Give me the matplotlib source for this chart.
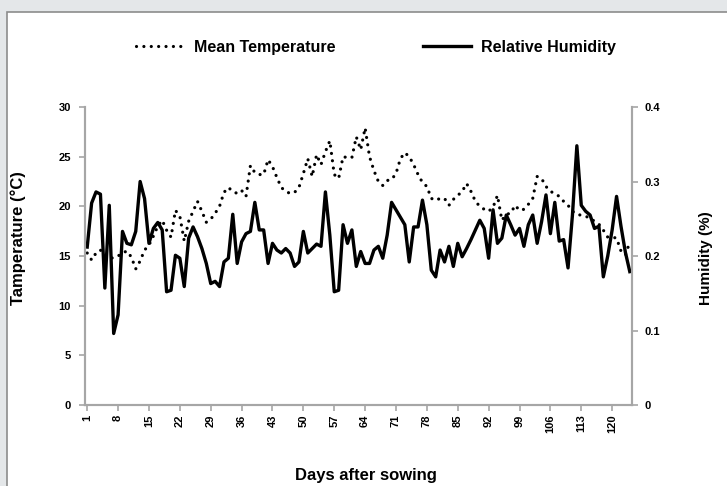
import matplotlib
matplotlib.use("Agg")
import matplotlib.pyplot as plt
from matplotlib.lines import Line2D
from matplotlib.patches import Rectangle

days = list(range(1, 125))

mean_temperature = [
    15.3, 14.6, 15.3, 15.6, 15.0, 14.8, 14.8, 15.0, 15.3, 15.5,
    14.9, 13.7, 14.5, 15.6, 16.1, 17.0, 18.0, 18.6, 17.6, 16.9,
    19.6, 19.0, 16.5, 18.5, 19.5, 20.5, 19.5, 18.4, 18.7, 19.3,
    20.0, 21.4, 21.9, 21.5, 21.3, 21.6, 21.0, 24.1, 23.4, 23.2,
    23.2, 24.7, 24.0, 22.9, 21.9, 21.5, 21.3, 21.4, 21.9, 23.3,
    24.8, 23.0, 25.2, 24.2, 25.5, 26.6, 23.2, 22.8, 25.0, 24.9,
    24.9, 27.0, 25.7, 27.9, 25.0, 23.6, 22.5, 22.1, 22.6, 22.7,
    23.3, 24.8, 25.4, 25.0, 24.2, 23.2, 22.4, 22.0, 20.8, 20.6,
    20.8, 20.8, 20.1, 20.7, 21.1, 21.5, 22.3, 21.5, 20.5, 20.0,
    19.7, 19.5, 19.9, 21.1, 18.6, 19.2, 19.3, 20.1, 19.6, 19.7,
    20.2, 20.8, 23.0, 22.8, 22.0, 21.5, 21.3, 21.0, 20.5, 20.1,
    19.5, 19.2, 19.1, 19.0, 18.8, 18.5, 18.2, 17.6, 16.9, 16.9,
    16.8, 15.5, 15.1, 16.4,
]

relative_humidity = [
    0.212, 0.271, 0.286, 0.283, 0.157, 0.268, 0.096, 0.121, 0.233, 0.217,
    0.215, 0.233, 0.300, 0.277, 0.217, 0.237, 0.245, 0.235, 0.152, 0.154,
    0.201, 0.197, 0.159, 0.224, 0.239, 0.226, 0.210, 0.190, 0.163, 0.166,
    0.159, 0.192, 0.197, 0.256, 0.190, 0.219, 0.230, 0.233, 0.272, 0.235,
    0.235, 0.190, 0.217, 0.208, 0.204, 0.210, 0.204, 0.186, 0.192, 0.233,
    0.204, 0.210, 0.216, 0.213, 0.286, 0.228, 0.152, 0.154, 0.242, 0.217,
    0.235, 0.186, 0.206, 0.190, 0.190, 0.208, 0.213, 0.197, 0.228, 0.272,
    0.262, 0.252, 0.242, 0.192, 0.239, 0.239, 0.275, 0.242, 0.181, 0.172,
    0.208, 0.192, 0.213, 0.186, 0.217, 0.199, 0.210, 0.222, 0.235, 0.248,
    0.237, 0.197, 0.262, 0.217, 0.224, 0.255, 0.242, 0.228, 0.237, 0.213,
    0.242, 0.255, 0.217, 0.246, 0.282, 0.230, 0.272, 0.220, 0.222, 0.184,
    0.255, 0.348, 0.268, 0.260, 0.255, 0.237, 0.240, 0.172, 0.200, 0.235,
    0.280, 0.240, 0.205, 0.179,
]

x_tick_labels = [1, 8, 15, 22, 29, 36, 43, 50, 57, 64, 71, 78, 85, 92, 99, 106, 113, 120]
temp_ticks = [0, 5, 10, 15, 20, 25, 30]
hum_ticks = [0, 0.1, 0.2, 0.3, 0.4]
hum_tick_labels = ["0", "0.1", "0.2", "0.3", "0.4"]

plt.rcParams['font.family'] = ['Liberation Sans', 'DejaVu Sans']
plt.rcParams['font.weight'] = 'bold'

W, H = 727, 486
fig = plt.figure(figsize=(W / 100, H / 100), dpi=100)
fig.patch.set_facecolor('#e4e7e9')

# white panel with grey border
panel = Rectangle((7 / W, -0.01), 1 - 7 / W + 0.02, 1 - 12 / H + 0.01, transform=fig.transFigure,
                  facecolor='white', edgecolor='#8c8c8c', linewidth=1.2, zorder=-5)
fig.patches.append(panel)

ax = fig.add_axes([85 / W, 81 / H, (632 - 85) / W, (405 - 107) / H])
ax.set_facecolor('none')
ax2 = ax.twinx()
ax2.set_facecolor('none')

grey = '#a6a6a6'
dotted = (0, (0.01, 2.3))

ax.plot(days, mean_temperature, color='black', linestyle=dotted, linewidth=2.3,
        dash_capstyle='round')
ax2.plot(days, relative_humidity, color='black', linestyle='-', linewidth=2.4)

ax.set_xlim(0.5, 124.5)
ax.set_ylim(0, 30)
ax2.set_ylim(0, 0.4)

ax.set_xticks(x_tick_labels)
ax.set_xticklabels([str(v) for v in x_tick_labels], rotation=90, fontsize=8, fontweight='bold')
ax.set_yticks(temp_ticks)
ax.set_yticklabels([str(v) for v in temp_ticks], fontsize=8, fontweight='bold')
ax2.set_yticks(hum_ticks)
ax2.set_yticklabels(hum_tick_labels, fontsize=8, fontweight='bold')

for a in (ax, ax2):
    a.spines['top'].set_visible(False)
    for s in ('left', 'right', 'bottom'):
        a.spines[s].set_color(grey)
        a.spines[s].set_linewidth(1.5)
    a.tick_params(axis='both', colors=grey, direction='out', length=4, width=1.2,
                  labelcolor='black')
ax.tick_params(axis='y', pad=6)
ax2.tick_params(axis='y', pad=5)
ax.tick_params(axis='x', pad=3)

fig.text(18 / W, 1 - 238 / H, 'Tamperature (°C)', rotation=90, ha='center', va='center',
         fontsize=12, fontweight='bold')
fig.text(706 / W, 1 - 258 / H, 'Humidity (%)', rotation=90, ha='center', va='center',
         fontsize=11, fontweight='bold')
fig.text(366 / W, 1 - 475 / H, 'Days after sowing', ha='center', va='center',
         fontsize=12, fontweight='bold')

handles = [Line2D([], [], color='black', linestyle=dotted, linewidth=2.3, dash_capstyle='round'),
           Line2D([], [], color='black', linestyle='-', linewidth=2.4)]
fig.legend(handles, ['Mean Temperature', 'Relative Humidity'], loc='center',
           bbox_to_anchor=(376 / W, 1 - 47 / H), ncol=2, frameon=False,
           prop={'weight': 'bold', 'size': 11.5}, handlelength=3.0, handletextpad=0.6,
           columnspacing=5.5)

fig.savefig('out.png', dpi=100, facecolor=fig.get_facecolor())
